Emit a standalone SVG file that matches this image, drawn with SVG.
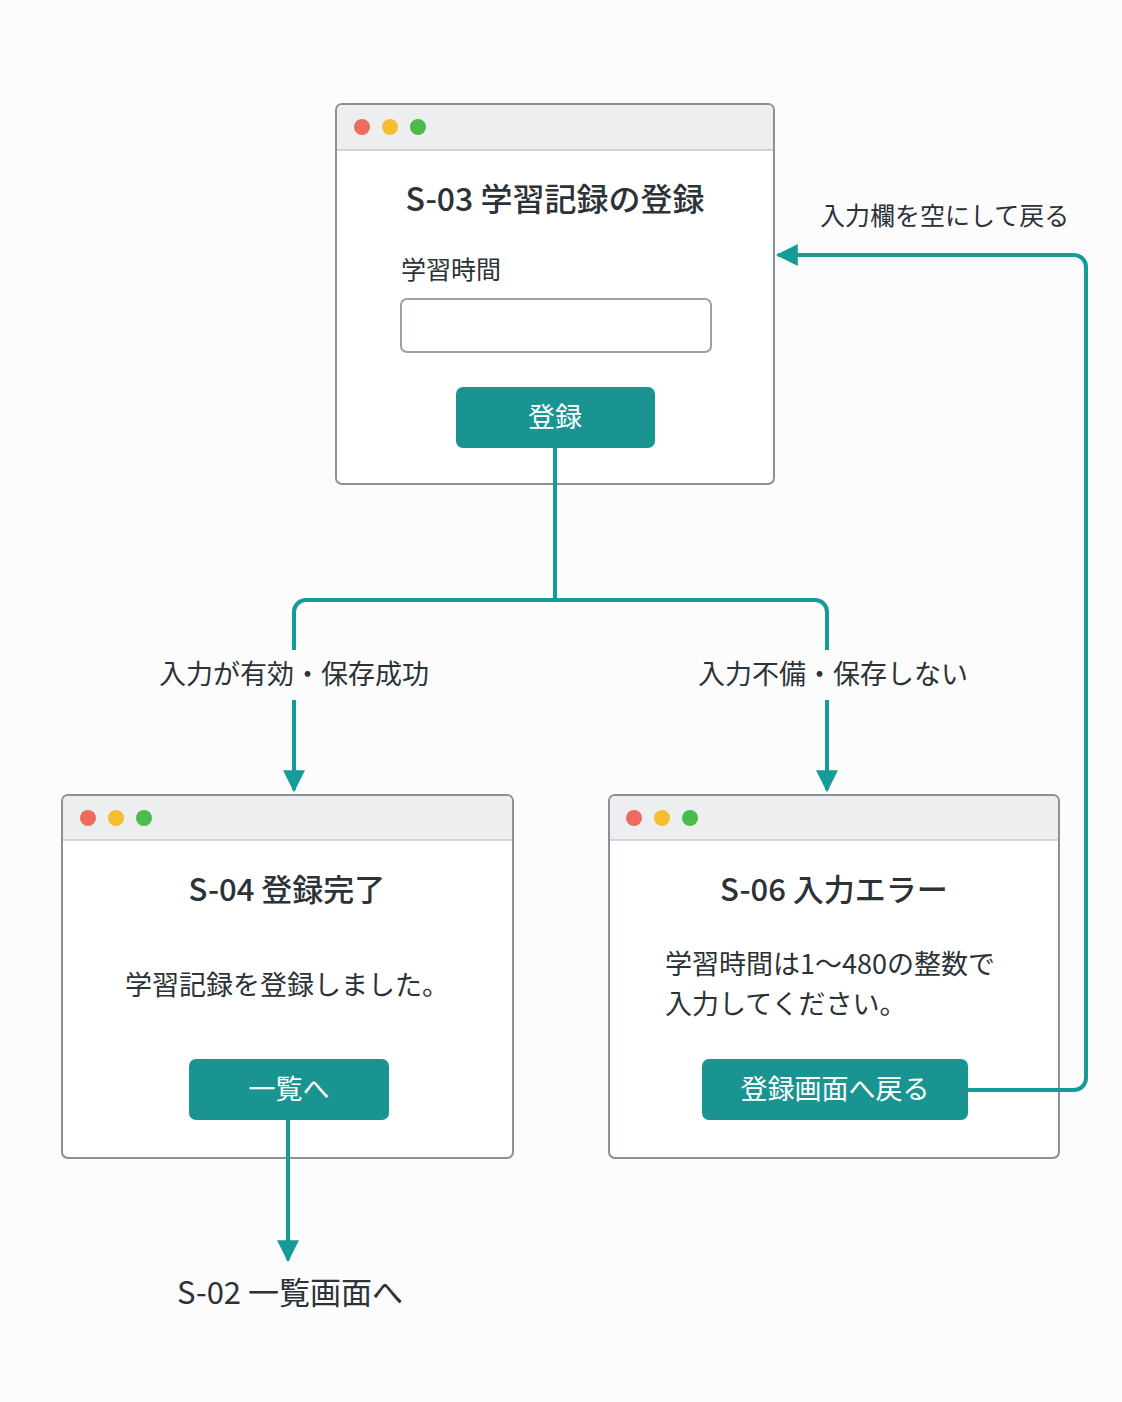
<svg xmlns="http://www.w3.org/2000/svg" width="1122" height="1402" viewBox="0 0 1122 1402">
<style>
text{font-family:"Noto Sans CJK JP","Noto Sans",sans-serif;fill:#2b3238}
.win{fill:#fff;stroke:#8a9097;stroke-width:2}
.bar{fill:#eceef0}
.sep{stroke:#c4c8cc;stroke-width:1.5}
.r{fill:#ee6b5f}.y{fill:#f4be2e}.g{fill:#4cbb4a}
.btn{fill:#1a9491}
.bt{fill:#fff;font-size:27px;text-anchor:middle}
.ttl{font-size:31px;font-weight:500;text-anchor:middle}
.lbl{font-size:27px}
.ln{fill:none;stroke:#169c98;stroke-width:4;stroke-linejoin:round}
</style>
<defs><marker id="a" viewBox="0 0 10 10" refX="9" refY="5" markerWidth="6.5" markerHeight="5.5" orient="auto"><path d="M0,0L10,5L0,10Z" fill="#169c98"/></marker></defs>
<rect width="1122" height="1402" fill="#fcfcfc"/>
<g id="s03">
<rect class="win" x="336" y="104" width="438" height="380" rx="6"/>
<path class="bar" d="M337,150V110a5,5 0 0 1 5,-5H768a5,5 0 0 1 5,5V150Z"/>
<line class="sep" x1="337" y1="150" x2="773" y2="150"/>
<circle class="r" cx="362" cy="127" r="8"/><circle class="y" cx="390" cy="127" r="8"/><circle class="g" cx="418" cy="127" r="8"/>
<text class="ttl" x="555" y="211" style="font-size:32px">S-03 学習記録の登録</text>
<text class="lbl" x="401" y="279" style="font-size:25px">学習時間</text>
<rect x="401" y="299" width="310" height="53" rx="6" fill="#fff" stroke="#9aa0a6" stroke-width="2"/>
<rect class="btn" x="456" y="387" width="199" height="61" rx="7"/>
<text class="bt" x="555" y="427">登録</text>
</g>
<g id="s04">
<rect class="win" x="62" y="795" width="451" height="363" rx="6"/>
<path class="bar" d="M63,840V801a5,5 0 0 1 5,-5H507a5,5 0 0 1 5,5V840Z"/>
<line class="sep" x1="63" y1="840" x2="512" y2="840"/>
<circle class="r" cx="88" cy="818" r="8"/><circle class="y" cx="116" cy="818" r="8"/><circle class="g" cx="144" cy="818" r="8"/>
<text class="ttl" x="287" y="901">S-04 登録完了</text>
<text class="lbl" x="287" y="995" text-anchor="middle">学習記録を登録しました。</text>
<rect class="btn" x="189" y="1059" width="200" height="61" rx="7"/>
<text class="bt" x="289" y="1099">一覧へ</text>
</g>
<g id="s06">
<rect class="win" x="609" y="795" width="450" height="363" rx="6"/>
<path class="bar" d="M610,840V801a5,5 0 0 1 5,-5H1053a5,5 0 0 1 5,5V840Z"/>
<line class="sep" x1="610" y1="840" x2="1058" y2="840"/>
<circle class="r" cx="634" cy="818" r="8"/><circle class="y" cx="662" cy="818" r="8"/><circle class="g" cx="690" cy="818" r="8"/>
<text class="ttl" x="834" y="901">S-06 入力エラー</text>
<text class="lbl" x="665" y="974">学習時間は1〜480の整数で</text>
<text class="lbl" x="665" y="1014">入力してください。</text>
<rect class="btn" x="702" y="1059" width="266" height="61" rx="7"/>
<text class="bt" x="835" y="1099">登録画面へ戻る</text>
</g>
<g id="s02"><text x="290" y="1304" text-anchor="middle" style="font-size:31px">S-02 一覧画面へ</text></g>
<g id="connectors">
<path class="ln" d="M555,448V600"/>
<path class="ln" d="M294,650V612a12,12 0 0 1 12,-12H815a12,12 0 0 1 12,12V650"/>
<path class="ln" d="M294,700V790" marker-end="url(#a)"/>
<path class="ln" d="M827,700V790" marker-end="url(#a)"/>
<path class="ln" d="M288,1120V1260" marker-end="url(#a)"/>
<path class="ln" d="M968,1090H1074a12,12 0 0 0 12,-12V267a12,12 0 0 0 -12,-12H778" marker-end="url(#a)"/>
<text class="lbl" x="294" y="684" text-anchor="middle">入力が有効・保存成功</text>
<text class="lbl" x="833" y="684" text-anchor="middle">入力不備・保存しない</text>
<text class="lbl" x="820" y="225" style="font-size:25px">入力欄を空にして戻る</text>
</g>
</svg>
